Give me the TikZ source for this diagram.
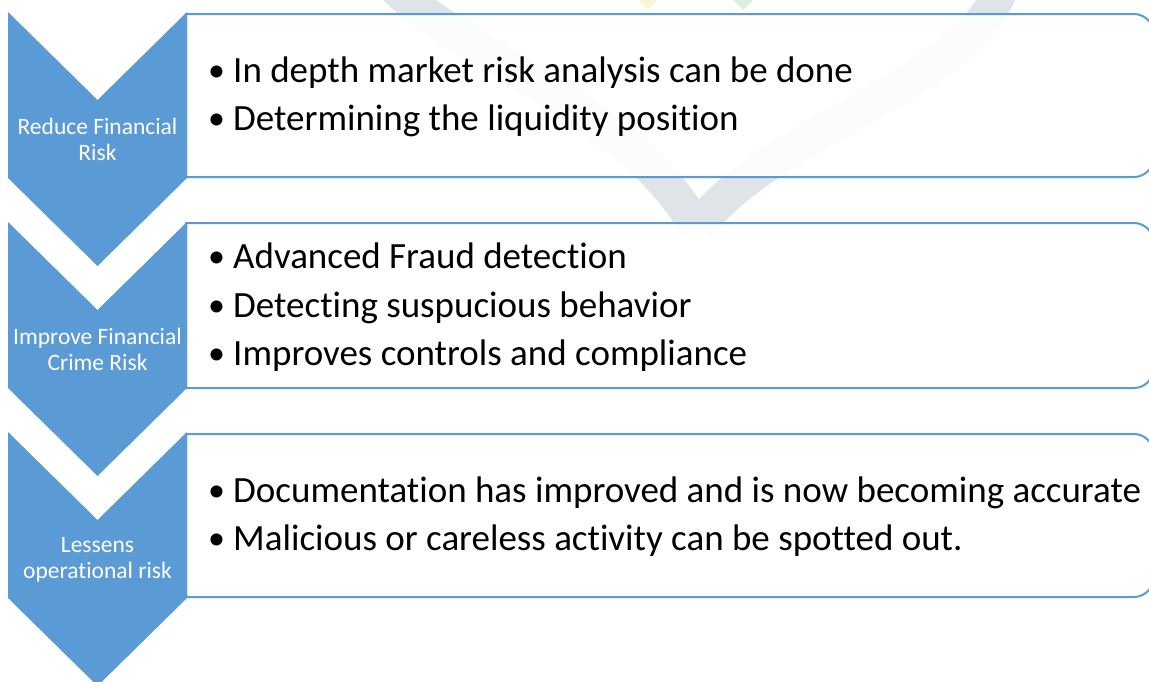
\documentclass[tikz,border=0pt]{standalone}
\usepackage{fontspec}
\setmainfont{Carlito}[Ligatures=NoCommon]
\definecolor{accent}{RGB}{91,155,213}
\definecolor{mark}{RGB}{222,228,231}
\definecolor{markyellow}{RGB}{250,247,214}
\definecolor{markgreen}{RGB}{220,238,222}
\tikzset{
  chevron/.style={fill=accent, draw=none},
  panel/.style={fill=white, fill opacity=0.9, draw=accent, line width=2pt, draw opacity=1},
  steplabel/.style={text=white, align=center, inner sep=0pt, font=\fontsize{23.5}{26}\selectfont},
  item/.style={text=black, inner sep=0pt, anchor=base west, font=\fontsize{37}{44}\selectfont},
  faint/.style={draw=mark, line width=34pt},
}
\newcommand{\bul}{\makebox[25pt][l]{\raisebox{0.5pt}{\fontsize{34}{40}\selectfont •}}}
\begin{document}
\begin{tikzpicture}[x=1pt,y=-1pt]
\useasboundingbox (0,0) rectangle (1149,681);
\fill[white] (0,0) rectangle (1149,681);

% faint background emblem
\draw[faint] (395,-12) .. controls (470,60) and (630,110) .. (697,228);
\draw[faint] (1002,-12) .. controls (960,90) and (770,130) .. (697,228);
\fill[markyellow] (648,10) -- (660,-2) -- (648,-14) -- (636,-2) -- cycle;
\fill[markgreen] (743,10) -- (755,-2) -- (743,-14) -- (731,-2) -- cycle;

% text panels (square on the left, rounded on the right)
\foreach \t/\b in {14/177, 223/388, 434/597}{
  \path[panel] (186,\t) -- (1134,\t) .. controls (1144,\t) and (1153,\t+8) .. (1153,\t+18)
    -- (1153,\b-18) .. controls (1153,\b-8) and (1144,\b) .. (1134,\b) -- (186,\b) -- cycle;
}

% chevrons
\foreach \t in {12, 222, 432}{
  \fill[chevron] (8,\t) -- (97.5,\t+88) -- (187,\t) -- (187,\t+166) -- (97.5,\t+254) -- (8,\t+166) -- cycle;
}

% chevron labels
\node[steplabel] (s1) at (97.5,139) {Reduce Financial\\Risk};
\node[steplabel] (s2) at (97.5,349) {Improve Financial\\Crime Risk};
\node[steplabel] (s3) at (97.5,560) {Lessens\\operational risk};

% panel bullets
\node[item] (p1a) at (208,82) {\bul In depth market risk analysis can be done};
\node[item] (p1b) at (208,130) {\bul Determining the liquidity position};
\node[item] (p2a) at (208,268) {\bul Advanced Fraud detection};
\node[item] (p2b) at (208,317) {\bul Detecting suspucious behavior};
\node[item] (p2c) at (208,365) {\bul Improves controls and compliance};
\node[item] (p3a) at (208,502) {\bul Documentation has improved and is now becoming accurate};
\node[item] (p3b) at (208,550) {\bul Malicious or careless activity can be spotted out.};
\end{tikzpicture}
\end{document}
